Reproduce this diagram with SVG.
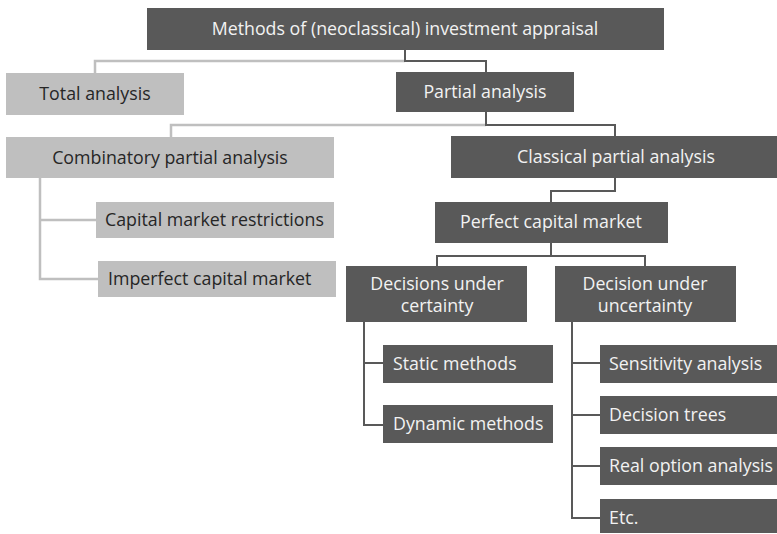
<svg xmlns="http://www.w3.org/2000/svg" width="777" height="534" viewBox="0 0 777 534">
  <style>
    .dark { fill: #595959; }
    .light { fill: #bfbfbf; }
    .t { font-family: "Open Sans", "Liberation Sans", sans-serif; font-size: 17.8px; }
    .td { fill: #f2f2f2; }
    .tl { fill: #262626; }
    .c { text-anchor: middle; }
    .ed { fill: none; stroke: #595959; stroke-width: 2; }
    .el { fill: none; stroke: #bfbfbf; stroke-width: 2.5; }
  </style>
  <rect width="777" height="534" fill="#ffffff"/>

  <!-- connectors -->
  <g id="connectors">
    <polyline class="el" points="405,61 95,61 95,73"/>
    <polyline class="ed" points="405,50 405,61 486,61 486,72"/>
    <polyline class="el" points="486,125 171,125 171,137"/>
    <polyline class="ed" points="486,112 486,125 615,125 615,136"/>
    <polyline class="el" points="40,178 40,279 98,279"/>
    <line class="el" x1="40" y1="220" x2="96" y2="220"/>
    <polyline class="ed" points="615,178 615,191 551,191 551,202"/>
    <polyline class="ed" points="551,243 551,256 437,256 437,266"/>
    <polyline class="ed" points="551,256 645,256 645,266"/>
    <polyline class="ed" points="364,322 364,425 383,425"/>
    <line class="ed" x1="364" y1="363" x2="383" y2="363"/>
    <polyline class="ed" points="572,322 572,518 600,518"/>
    <line class="ed" x1="572" y1="363" x2="600" y2="363"/>
    <line class="ed" x1="572" y1="415" x2="600" y2="415"/>
    <line class="ed" x1="572" y1="466" x2="600" y2="466"/>
  </g>

  <!-- nodes -->
  <g id="root">
    <rect class="dark" x="147" y="8" width="517" height="42"/>
    <text class="t td c" x="405" y="35">Methods of (neoclassical) investment appraisal</text>
  </g>
  <g id="total">
    <rect class="light" x="6" y="73" width="178" height="42"/>
    <text class="t tl c" x="95" y="100">Total analysis</text>
  </g>
  <g id="partial">
    <rect class="dark" x="396" y="72" width="178" height="40"/>
    <text class="t td c" x="485" y="98">Partial analysis</text>
  </g>
  <g id="combinatory">
    <rect class="light" x="6" y="137" width="328" height="41"/>
    <text class="t tl c" x="170" y="164">Combinatory partial analysis</text>
  </g>
  <g id="restrictions">
    <rect class="light" x="96" y="202" width="238" height="36"/>
    <text class="t tl" x="105" y="226">Capital market restrictions</text>
  </g>
  <g id="imperfect">
    <rect class="light" x="98" y="261" width="238" height="36"/>
    <text class="t tl" x="108" y="285">Imperfect capital market</text>
  </g>
  <g id="classical">
    <rect class="dark" x="451" y="136" width="326" height="42"/>
    <text class="t td c" x="616" y="163">Classical partial analysis</text>
  </g>
  <g id="perfect">
    <rect class="dark" x="435" y="202" width="233" height="41"/>
    <text class="t td c" x="551" y="228">Perfect capital market</text>
  </g>
  <g id="certainty">
    <rect class="dark" x="346" y="266" width="181" height="56"/>
    <text class="t td c" x="437" y="290">Decisions under</text>
    <text class="t td c" x="437" y="312">certainty</text>
  </g>
  <g id="uncertainty">
    <rect class="dark" x="555" y="266" width="181" height="56"/>
    <text class="t td c" x="645" y="290">Decision under</text>
    <text class="t td c" x="645" y="312">uncertainty</text>
  </g>
  <g id="static">
    <rect class="dark" x="383" y="345" width="170" height="38"/>
    <text class="t td" x="393" y="370">Static methods</text>
  </g>
  <g id="dynamic">
    <rect class="dark" x="383" y="405" width="170" height="38"/>
    <text class="t td" x="393" y="430">Dynamic methods</text>
  </g>
  <g id="sensitivity">
    <rect class="dark" x="600" y="345" width="177" height="38"/>
    <text class="t td" x="609" y="370">Sensitivity analysis</text>
  </g>
  <g id="trees">
    <rect class="dark" x="600" y="396" width="177" height="38"/>
    <text class="t td" x="609" y="421">Decision trees</text>
  </g>
  <g id="realoption">
    <rect class="dark" x="600" y="447" width="177" height="38"/>
    <text class="t td" x="609" y="472">Real option analysis</text>
  </g>
  <g id="etc">
    <rect class="dark" x="600" y="499" width="177" height="34"/>
    <text class="t td" x="609" y="524">Etc.</text>
  </g>
</svg>
